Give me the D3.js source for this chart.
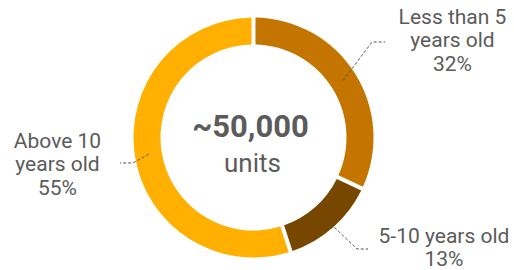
<!DOCTYPE html>
<html><head><meta charset="utf-8">
<script src="https://cdn.jsdelivr.net/npm/d3@7"></script>
<style>html,body{margin:0;padding:0;background:#fff;}svg{display:block;font-family:Roboto,sans-serif;}</style>
</head><body>
<svg id="c" width="514" height="270"></svg>
<script>
const categories = ["Less than 5 years old", "5-10 years old", "Above 10 years old"];
const values = [32, 13, 55];
const labelLines = [["Less than 5", "years old", "32%"], ["5-10 years old", "13%"], ["Above 10", "years old", "55%"]];
const colors = ["#C47500", "#774700", "#FFB000"];
const centerTitle = "~50,000";
const centerSub = "units";

const W = 514, H = 270, cx = 253.5, cy = 137.5, rOut = 120, rIn = 93;
// layout of callouts: elbow point and label anchor (x, first baseline)
const callout = [
  {elbow: [372, 42], end: [385, 42], lx: 452.5, ly: 24},
  {elbow: [357, 249], end: [368, 249], lx: 444, ly: 243},
  {elbow: [133, 163], end: [120, 163], lx: 57.5, ly: 148}
];

const svg = d3.select("#c");
const g = svg.append("g").attr("transform", `translate(${cx},${cy})`);
const pie = d3.pie().sort(null).value(d => d)(values);
const arc = d3.arc().innerRadius(rIn).outerRadius(rOut).padAngle(4 / 120).padRadius(120);
g.selectAll("path.s").data(pie).join("path").attr("class", "s")
  .attr("d", arc).attr("fill", (d, i) => colors[i]);

const mid = d3.arc().innerRadius(106).outerRadius(106);
pie.forEach((d, i) => {
  const c = mid.centroid(d);
  const o = callout[i];
  svg.append("polyline")
    .attr("points", [[cx + c[0], cy + c[1]], o.elbow, o.end].map(p => p.join(",")).join(" "))
    .attr("fill", "none").attr("stroke", "#555").attr("stroke-width", 1)
    .attr("stroke-dasharray", "3,2");
  const t = svg.append("text").attr("text-anchor", "middle").attr("fill", "#5b5b5b")
    .attr("font-size", 21);
  labelLines[i].forEach((ln, j) => {
    t.append("tspan").attr("x", o.lx).attr("y", o.ly + j * 23.3).text(ln);
  });
});

svg.append("text").attr("x", cx - 3).attr("y", 136.5).attr("text-anchor", "middle")
  .attr("font-size", 31).attr("font-weight", "bold").attr("fill", "#5b5b5b").text(centerTitle);
svg.append("text").attr("x", cx - 1).attr("y", 171.5).attr("text-anchor", "middle")
  .attr("font-size", 26).attr("fill", "#5b5b5b").text(centerSub);
</script>
</body></html>
